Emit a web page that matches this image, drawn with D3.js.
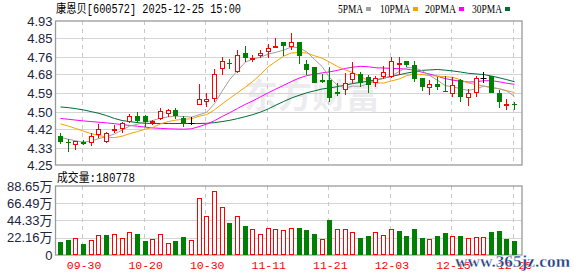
<!DOCTYPE html>
<html><head><meta charset="utf-8">
<script src="https://cdn.jsdelivr.net/npm/d3@7/dist/d3.min.js"></script>
<style>
html,body{margin:0;padding:0;background:#fff;}
svg{display:block;}
</style></head>
<body>
<svg id="c" width="578" height="276"></svg>
<script>
const dates = ["09-25","09-26","09-29","09-30","10-09","10-10","10-13","10-14","10-15","10-16","10-17","10-20","10-21","10-22","10-23","10-24","10-27","10-28","10-29","10-30","10-31","11-03","11-04","11-05","11-06","11-07","11-10","11-11","11-12","11-13","11-14","11-17","11-18","11-19","11-20","11-21","11-24","11-25","11-26","11-27","11-28","12-01","12-02","12-03","12-04","12-05","12-08","12-09","12-10","12-11","12-12","12-15","12-16","12-17","12-18","12-19","12-22","12-23","12-24","12-25"];
const opens  = [4.387,4.360,4.343,4.360,4.352,4.390,4.360,4.412,4.420,4.452,4.483,4.483,4.447,4.465,4.492,4.510,4.473,4.446,4.532,4.549,4.562,4.702,4.733,4.691,4.777,4.749,4.765,4.782,4.806,4.829,4.806,4.829,4.726,4.711,4.651,4.651,4.593,4.604,4.651,4.680,4.667,4.639,4.664,4.667,4.726,4.743,4.722,4.659,4.612,4.632,4.601,4.585,4.651,4.565,4.591,4.662,4.670,4.589,4.529,4.538];
const highs  = [4.400,4.371,4.365,4.368,4.403,4.442,4.406,4.440,4.452,4.491,4.499,4.486,4.463,4.518,4.513,4.520,4.481,4.478,4.633,4.591,4.702,4.759,4.749,4.793,4.812,4.769,4.793,4.821,4.848,4.829,4.872,4.829,4.746,4.714,4.680,4.711,4.636,4.683,4.738,4.691,4.675,4.670,4.717,4.759,4.759,4.743,4.743,4.659,4.651,4.664,4.670,4.667,4.655,4.607,4.670,4.688,4.672,4.604,4.560,4.549];
const lows   = [4.349,4.310,4.321,4.344,4.341,4.376,4.352,4.403,4.400,4.447,4.447,4.428,4.439,4.463,4.475,4.465,4.431,4.439,4.532,4.522,4.549,4.675,4.702,4.683,4.738,4.738,4.754,4.757,4.806,4.766,4.793,4.728,4.675,4.636,4.636,4.549,4.576,4.581,4.636,4.620,4.591,4.620,4.655,4.659,4.675,4.714,4.643,4.601,4.581,4.604,4.597,4.573,4.549,4.530,4.573,4.636,4.591,4.521,4.510,4.510];
const closes = [4.359,4.352,4.365,4.351,4.387,4.419,4.400,4.421,4.447,4.483,4.459,4.455,4.458,4.506,4.508,4.480,4.444,4.446,4.562,4.563,4.680,4.740,4.726,4.769,4.755,4.757,4.780,4.801,4.812,4.813,4.829,4.765,4.699,4.639,4.643,4.565,4.585,4.639,4.683,4.636,4.628,4.659,4.691,4.743,4.733,4.722,4.655,4.620,4.632,4.620,4.597,4.628,4.573,4.591,4.659,4.662,4.591,4.549,4.538,4.532];
// volume in 万 shares
const volumes = [17.1,19.3,21.4,14.1,19.3,25.3,25.7,26.6,21.4,29.6,27.0,18.0,20.1,26.6,15.0,18.0,23.1,19.3,72.8,49.7,81.8,61.3,41.1,49.7,37.3,33.0,27.0,34.3,33.0,31.7,34.3,34.3,31.7,27.0,20.1,45.0,33.0,33.0,29.6,21.4,24.4,29.6,25.3,33.0,30.8,24.4,33.4,21.4,20.1,24.4,28.3,24.4,24.4,21.8,22.7,22.7,29.6,30.8,20.1,18.0778];
const ma5  = [4.380,4.372,4.364,4.358,4.363,4.375,4.384,4.396,4.415,4.434,4.442,4.453,4.460,4.472,4.477,4.481,4.479,4.476,4.487,4.499,4.539,4.598,4.654,4.695,4.735,4.751,4.759,4.774,4.782,4.793,4.807,4.804,4.784,4.749,4.715,4.662,4.626,4.614,4.623,4.622,4.634,4.649,4.659,4.671,4.691,4.710,4.709,4.695,4.672,4.650,4.625,4.619,4.610,4.602,4.610,4.622,4.615,4.610,4.599,4.574];
const ma10 = [4.444,4.434,4.422,4.410,4.398,4.389,4.382,4.379,4.386,4.398,4.408,4.419,4.428,4.444,4.455,4.462,4.466,4.468,4.480,4.488,4.510,4.538,4.565,4.591,4.617,4.645,4.678,4.714,4.739,4.764,4.779,4.781,4.779,4.766,4.754,4.735,4.715,4.699,4.686,4.668,4.648,4.638,4.637,4.647,4.656,4.672,4.679,4.677,4.672,4.670,4.667,4.664,4.652,4.637,4.630,4.623,4.617,4.610,4.601,4.592];
const ma20 = [4.470,4.466,4.462,4.458,4.455,4.452,4.449,4.445,4.441,4.437,4.433,4.429,4.425,4.423,4.421,4.420,4.419,4.421,4.431,4.443,4.459,4.479,4.497,4.517,4.536,4.553,4.572,4.591,4.609,4.626,4.644,4.660,4.672,4.679,4.685,4.690,4.697,4.706,4.712,4.716,4.714,4.709,4.708,4.706,4.705,4.703,4.697,4.688,4.679,4.669,4.658,4.651,4.645,4.642,4.643,4.648,4.648,4.643,4.636,4.631];
const ma30 = [4.524,4.521,4.516,4.510,4.502,4.494,4.483,4.470,4.460,4.455,4.450,4.447,4.446,4.446,4.446,4.446,4.446,4.446,4.446,4.447,4.450,4.455,4.461,4.469,4.478,4.488,4.500,4.515,4.533,4.550,4.566,4.579,4.591,4.600,4.609,4.614,4.620,4.627,4.635,4.640,4.646,4.652,4.660,4.668,4.676,4.684,4.691,4.697,4.699,4.701,4.698,4.694,4.689,4.683,4.680,4.677,4.670,4.662,4.653,4.643];
const priceTicks = [4.93,4.85,4.76,4.68,4.59,4.50,4.42,4.33,4.25];
const volTicks = [88.65,66.49,44.33,22.16,0];
const dateTicks = ["09-30","10-20","10-30","11-11","11-21","12-03","12-15","12-25"];
const maNames = ["5PMA","10PMA","20PMA","30PMA"];
const maColors = ["#a0a0a0","#f5a300","#ff00ff","#006c35"];

const RED = "#ff0000", GREEN = "#008000";
const svg = d3.select("#c");
const L = 55.5, R = 522, T = 21, B = 165, VT = 186, VB = 255;

const x = d3.scalePoint().domain(dates).range([60.5, 514.5]);
const y = d3.scaleLinear().domain([4.25, 4.93]).range([B, T]);
const yv = d3.scaleLinear().domain([0, 88.65]).range([VB, VT]);
const cx = d => Math.round(x(d) - 0.5) + 0.5;

// title
svg.append("text").attr("x", 56).attr("y", 13)
  .attr("font-family", "'Liberation Mono','Noto Sans CJK SC',monospace").attr("font-size", 12)
  .attr("textLength", 185).attr("lengthAdjust", "spacingAndGlyphs").attr("fill", "#000")
  .text("康恩贝[600572] 2025-12-25 15:00");

// legend
const legX = [338, 380, 425, 472], legW = [25, 30, 31, 30];
maNames.forEach((n, k) => {
  svg.append("text").attr("x", legX[k]).attr("y", 13)
    .attr("font-family", "'Liberation Serif',serif").attr("font-size", 12)
    .attr("textLength", legW[k]).attr("lengthAdjust", "spacingAndGlyphs").attr("fill", "#000").text(n);
  svg.append("rect").attr("x", legX[k] + legW[k] + 3).attr("y", 7).attr("width", 5).attr("height", 4).attr("fill", maColors[k]);
});

// watermark
svg.append("text").attr("x", 244).attr("y", 108).attr("font-family", "'Noto Sans CJK SC'")
  .attr("font-weight", "bold").attr("font-size", 34).attr("fill", "#ececef").text("东方财富");

// horizontal grid (price)
svg.append("g").selectAll("line").data(priceTicks.slice(1, -1)).join("line")
  .attr("x1", L).attr("x2", R).attr("y1", d => Math.round(y(d)) + 0.5).attr("y2", d => Math.round(y(d)) + 0.5)
  .attr("stroke", "#d4d4d4");
svg.append("g").selectAll("line").data(volTicks.slice(1, -1)).join("line")
  .attr("x1", L).attr("x2", R).attr("y1", d => Math.round(yv(d)) + 0.5).attr("y2", d => Math.round(yv(d)) + 0.5)
  .attr("stroke", "#d4d4d4");
// vertical dashed grid
[[T, B], [VT, VB]].forEach(([a, b]) => {
  svg.append("g").selectAll("line").data(dateTicks).join("line")
    .attr("x1", d => cx(d) - 1).attr("x2", d => cx(d) - 1).attr("y1", a).attr("y2", b)
    .attr("stroke", "#c8c8c8").attr("stroke-dasharray", "4,4");
});

// frames
svg.append("rect").attr("x", L).attr("y", T).attr("width", R - L).attr("height", B - T)
  .attr("fill", "none").attr("stroke", "#9a9a9a").attr("stroke-width", 1.3);
svg.append("rect").attr("x", L).attr("y", VT).attr("width", R - L).attr("height", VB - VT)
  .attr("fill", "none").attr("stroke", "#9a9a9a").attr("stroke-width", 1.3);

// y axes labels
const ya = svg.append("g").attr("transform", `translate(${L},0)`)
  .call(d3.axisLeft(y).tickValues(priceTicks).tickSize(0).tickPadding(3).tickFormat(d3.format(".2f")));
ya.select(".domain").remove();
ya.selectAll("text").attr("font-family", "'Liberation Sans',Arial,sans-serif").attr("font-size", 13).attr("fill", "#1d2440");
const va = svg.append("g").attr("transform", `translate(${L},0)`)
  .call(d3.axisLeft(yv).tickValues(volTicks).tickSize(0).tickPadding(3).tickFormat(d => d === 0 ? "0" : d.toFixed(2) + "万"));
va.select(".domain").remove();
va.selectAll("text").attr("font-family", "'Liberation Sans','Noto Sans CJK SC',sans-serif").attr("font-size", 13).attr("fill", "#1d2440");

// x axis labels
const xa = svg.append("g").attr("transform", `translate(0,${VB})`)
  .call(d3.axisBottom(x).tickValues(dateTicks).tickSize(0).tickPadding(6));
xa.select(".domain").remove();
xa.selectAll("text").attr("font-family", "'Liberation Mono',monospace").attr("font-size", 11.5).attr("fill", RED);

// MA lines
const maData = [ma5, ma10, ma20, ma30];
const line = d3.line().x((d, i) => x(dates[i])).y(d => y(d));
[3, 2, 1, 0].forEach(k => {
  svg.append("path").datum(maData[k]).attr("d", line).attr("fill", "none")
    .attr("stroke", maColors[k]).attr("stroke-width", 1);
});

// candles
const cg = svg.append("g");
dates.forEach((d, i) => {
  const o = opens[i], c = closes[i], h = highs[i], l = lows[i];
  const col = c > o ? RED : (c < o ? GREEN : "#000");
  const X = cx(d);
  cg.append("line").attr("x1", X).attr("x2", X).attr("y1", Math.round(y(h))).attr("y2", Math.round(y(l)))
    .attr("stroke", col).attr("shape-rendering", "crispEdges");
  const top = Math.round(y(Math.max(o, c))), bot = Math.round(y(Math.min(o, c)));
  if (c > o) {
    cg.append("rect").attr("x", X - 2).attr("y", top + 0.5).attr("width", 4).attr("height", Math.max(1, bot - top - 1))
      .attr("fill", "#fff").attr("stroke", col).attr("shape-rendering", "crispEdges");
  } else if (c < o) {
    cg.append("rect").attr("x", X - 2.5).attr("y", top).attr("width", 5).attr("height", Math.max(1, bot - top))
      .attr("fill", col).attr("shape-rendering", "crispEdges");
  } else {
    cg.append("line").attr("x1", X - 3).attr("x2", X + 3).attr("y1", top + 0.5).attr("y2", top + 0.5)
      .attr("stroke", col).attr("stroke-width", 1);
  }
});

// volume bars (colour by change vs previous close)
const vg = svg.append("g");
dates.forEach((d, i) => {
  const prev = i === 0 ? opens[0] : closes[i - 1];
  const up = closes[i] > prev;
  const X = cx(d);
  const top = Math.round(yv(volumes[i]));
  if (up) {
    vg.append("rect").attr("x", X - 2).attr("y", top + 0.5).attr("width", 4).attr("height", VB - top - 1)
      .attr("fill", "#fff").attr("stroke", RED).attr("shape-rendering", "crispEdges");
  } else {
    vg.append("rect").attr("x", X - 2.5).attr("y", top).attr("width", 5).attr("height", VB - top)
      .attr("fill", GREEN).attr("shape-rendering", "crispEdges");
  }
});

// volume caption
svg.append("text").attr("x", 57).attr("y", 182)
  .attr("font-family", "'Liberation Mono','Noto Sans CJK SC',monospace").attr("font-size", 12)
  .attr("textLength", 78).attr("lengthAdjust", "spacingAndGlyphs").attr("fill", "#000")
  .text("成交量:" + Math.round(volumes[volumes.length - 1] * 10000));

// site watermark
svg.append("text").attr("x", 455).attr("y", 266.5)
  .attr("font-family", "'Liberation Serif',serif").attr("font-weight", "bold").attr("font-size", 16)
  .attr("textLength", 115).attr("lengthAdjust", "spacingAndGlyphs").attr("fill", "#1f3f7f")
  .attr("stroke", "#fff").attr("stroke-width", 0.3)
  .text("www.365jz.com");
</script>
</body></html>
